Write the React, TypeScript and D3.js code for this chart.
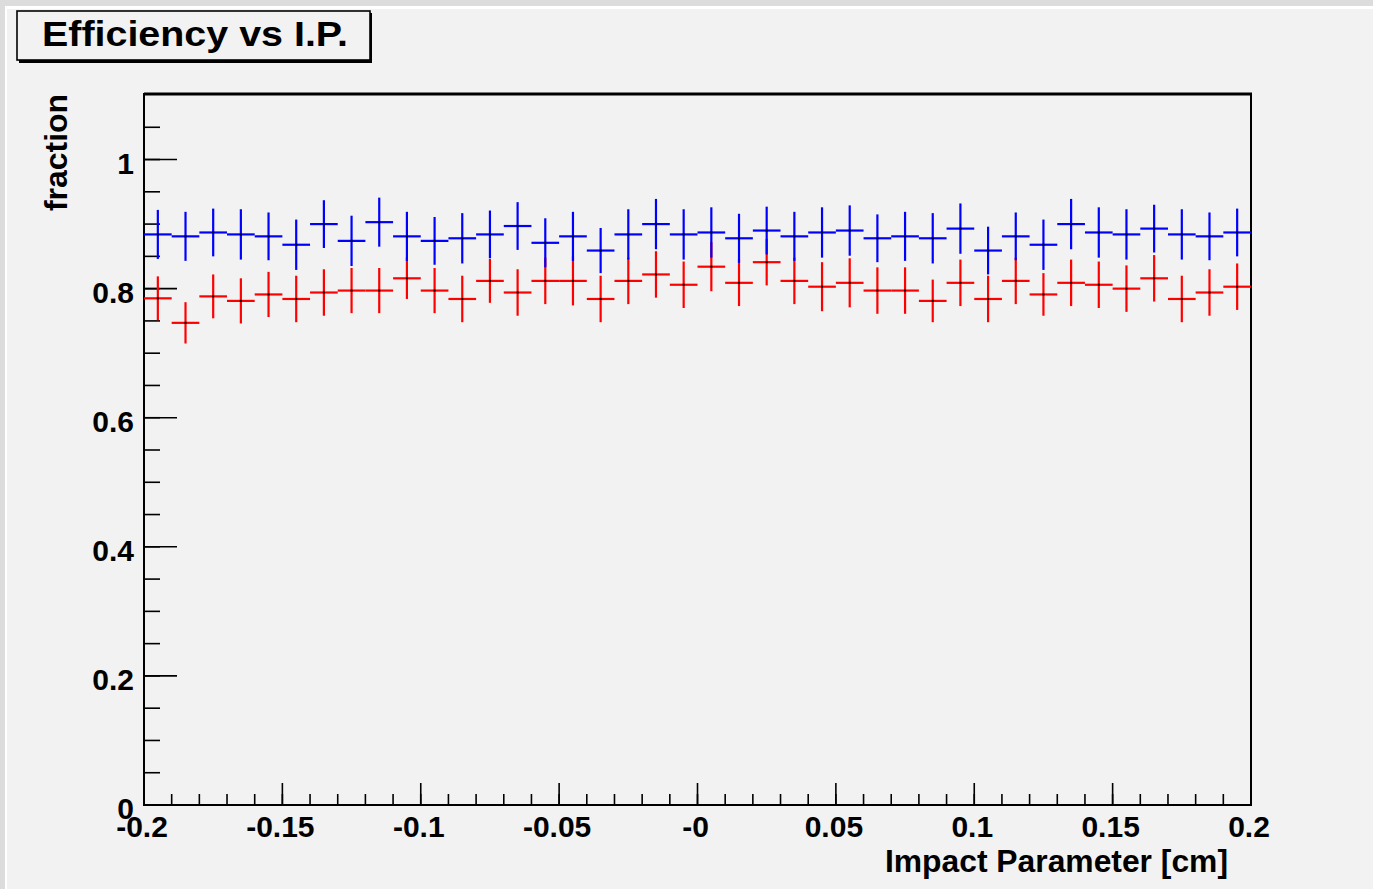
import React, { useEffect, useRef } from "react";
import * as d3 from "d3";

// bin centres of the histogram (bin width 0.01 cm)
const binCenters = [
  -0.195, -0.185, -0.175, -0.165, -0.155, -0.145, -0.135, -0.125, -0.115, -0.105,
  -0.095, -0.085, -0.075, -0.065, -0.055, -0.045, -0.035, -0.025, -0.015, -0.005,
  0.005, 0.015, 0.025, 0.035, 0.045, 0.055, 0.065, 0.075, 0.085, 0.095,
  0.105, 0.115, 0.125, 0.135, 0.145, 0.155, 0.165, 0.175, 0.185, 0.195,
];
const binHalfWidth = 0.005;

const blueValues = [
  0.884, 0.881, 0.887, 0.884, 0.881, 0.868, 0.9, 0.874, 0.903, 0.881,
  0.874, 0.878, 0.884, 0.897, 0.871, 0.881, 0.859, 0.884, 0.9, 0.884,
  0.887, 0.878, 0.89, 0.881, 0.887, 0.89, 0.878, 0.881, 0.878, 0.893,
  0.859, 0.881, 0.868, 0.9, 0.887, 0.884, 0.893, 0.884, 0.881, 0.887,
];
const blueErrors = [
  0.038, 0.038, 0.037, 0.039, 0.037, 0.039, 0.037, 0.039, 0.038, 0.038,
  0.037, 0.039, 0.037, 0.037, 0.038, 0.038, 0.035, 0.039, 0.039, 0.039,
  0.039, 0.038, 0.037, 0.038, 0.039, 0.039, 0.037, 0.038, 0.039, 0.039,
  0.037, 0.037, 0.039, 0.039, 0.039, 0.039, 0.037, 0.039, 0.037, 0.037,
];

const redValues = [
  0.785, 0.747, 0.788, 0.781, 0.791, 0.784, 0.794, 0.797, 0.797, 0.816,
  0.797, 0.784, 0.812, 0.794, 0.812, 0.812, 0.784, 0.812, 0.822, 0.806,
  0.834, 0.809, 0.841, 0.812, 0.803, 0.809, 0.797, 0.797, 0.781, 0.809,
  0.784, 0.812, 0.791, 0.809, 0.806, 0.8, 0.816, 0.784, 0.794, 0.803,
];
const redErrors = [
  0.034, 0.032, 0.034, 0.035, 0.035, 0.036, 0.036, 0.035, 0.035, 0.032,
  0.035, 0.036, 0.034, 0.036, 0.036, 0.038, 0.036, 0.036, 0.036, 0.036,
  0.038, 0.036, 0.036, 0.036, 0.038, 0.038, 0.036, 0.036, 0.033, 0.036,
  0.036, 0.036, 0.033, 0.036, 0.036, 0.036, 0.036, 0.036, 0.036, 0.036,
];

const xMajorTicks = [-0.2, -0.15, -0.1, -0.05, 0, 0.05, 0.1, 0.15, 0.2];
const xTickLabels = ["-0.2", "-0.15", "-0.1", "-0.05", "-0", "0.05", "0.1", "0.15", "0.2"];
const yMajorTicks = [0, 0.2, 0.4, 0.6, 0.8, 1];
const yTickLabels = ["0", "0.2", "0.4", "0.6", "0.8", "1"];

const title = "Efficiency vs I.P.";
const xTitle = "Impact Parameter [cm]";
const yTitle = "fraction";

const W = 1373;
const H = 889;
const FONT = "'Liberation Sans', Arial, Helvetica, sans-serif";

export default function App() {
  const svgRef = useRef<SVGSVGElement>(null);

  useEffect(() => {
    if (!svgRef.current) return;
    const svg = d3.select(svgRef.current);
    svg.selectAll("*").remove();

    // canvas background with a window-like border
    svg.append("rect").attr("width", W).attr("height", H).attr("fill", "#dcdcdc");
    svg.append("rect").attr("x", 5).attr("y", 6).attr("width", W).attr("height", H).attr("fill", "#ffffff");
    svg.append("rect").attr("x", 7).attr("y", 9).attr("width", W).attr("height", H).attr("fill", "#f2f2f2");

    const left = 144;
    const right = 1251;
    const bottom = 805;
    const top = 94;

    const x = d3.scaleLinear().domain([-0.2, 0.2]).range([left, right]);
    const y = d3.scaleLinear().domain([0, 1.1]).range([bottom, top + 1]);

    // frame
    svg.append("rect")
      .attr("x", left).attr("y", top)
      .attr("width", right - left).attr("height", bottom - top)
      .attr("fill", "none").attr("stroke", "#000").attr("stroke-width", 2);
    svg.append("line")
      .attr("x1", left).attr("x2", right + 1).attr("y1", top).attr("y2", top)
      .attr("stroke", "#000").attr("stroke-width", 3);

    // x ticks
    const xMinor = d3.range(-0.2, 0.2001, 0.01);
    svg.append("g").selectAll("line").data(xMinor).enter().append("line")
      .attr("x1", (d) => x(d)).attr("x2", (d) => x(d))
      .attr("y1", bottom).attr("y2", bottom - 11)
      .attr("stroke", "#000").attr("stroke-width", 1.6);
    svg.append("g").selectAll("line").data(xMajorTicks).enter().append("line")
      .attr("x1", (d) => x(d)).attr("x2", (d) => x(d))
      .attr("y1", bottom).attr("y2", bottom - 22)
      .attr("stroke", "#000").attr("stroke-width", 1.6);
    svg.append("g").selectAll("text").data(xMajorTicks).enter().append("text")
      .attr("x", (d) => x(d) - 2).attr("y", 837)
      .attr("text-anchor", "middle")
      .style("font-family", FONT).style("font-weight", "bold").style("font-size", "30px")
      .text((d, i) => xTickLabels[i]);

    // y ticks
    const yMinor = d3.range(0, 1.1, 0.05);
    svg.append("g").selectAll("line").data(yMinor).enter().append("line")
      .attr("x1", left).attr("x2", left + 16)
      .attr("y1", (d) => y(d)).attr("y2", (d) => y(d))
      .attr("stroke", "#000").attr("stroke-width", 1.6);
    svg.append("g").selectAll("line").data(yMajorTicks).enter().append("line")
      .attr("x1", left).attr("x2", left + 33)
      .attr("y1", (d) => y(d)).attr("y2", (d) => y(d))
      .attr("stroke", "#000").attr("stroke-width", 1.6);
    svg.append("g").selectAll("text").data(yMajorTicks).enter().append("text")
      .attr("x", 134).attr("y", (d) => y(d) + 14)
      .attr("text-anchor", "end")
      .style("font-family", FONT).style("font-weight", "bold").style("font-size", "30px")
      .text((d, i) => yTickLabels[i]);

    // axis titles
    svg.append("text")
      .attr("x", 1228).attr("y", 872)
      .attr("text-anchor", "end")
      .style("font-family", FONT).style("font-weight", "bold").style("font-size", "31px")
      .attr("textLength", 343).attr("lengthAdjust", "spacingAndGlyphs")
      .text(xTitle);
    svg.append("text")
      .attr("transform", "translate(67,94) rotate(-90)")
      .attr("text-anchor", "end")
      .style("font-family", FONT).style("font-weight", "bold").style("font-size", "31px")
      .attr("textLength", 117).attr("lengthAdjust", "spacingAndGlyphs")
      .text(yTitle);

    // data series: red underneath, blue on top
    const series = [
      { values: redValues, errors: redErrors, color: "#ff0000" },
      { values: blueValues, errors: blueErrors, color: "#0000ff" },
    ];
    series.forEach((s) => {
      const g = svg.append("g");
      const pts = binCenters.map((c, i) => ({ c, v: s.values[i], e: s.errors[i] }));
      g.selectAll(".h").data(pts).enter().append("line")
        .attr("x1", (d) => x(d.c - binHalfWidth)).attr("x2", (d) => x(d.c + binHalfWidth))
        .attr("y1", (d) => y(d.v)).attr("y2", (d) => y(d.v))
        .attr("stroke", s.color).attr("stroke-width", 2.2);
      g.selectAll(".v").data(pts).enter().append("line")
        .attr("x1", (d) => x(d.c)).attr("x2", (d) => x(d.c))
        .attr("y1", (d) => y(d.v - d.e)).attr("y2", (d) => y(d.v + d.e))
        .attr("stroke", s.color).attr("stroke-width", 2.2);
      g.selectAll(".m").data(pts).enter().append("rect")
        .attr("x", (d) => x(d.c) - 1).attr("y", (d) => y(d.v) - 1)
        .attr("width", 2).attr("height", 2).attr("fill", "#000");
    });

    // title box with shadow
    svg.append("rect").attr("x", 19).attr("y", 13).attr("width", 353).attr("height", 50).attr("fill", "#000");
    svg.append("rect").attr("x", 17).attr("y", 11).attr("width", 353).attr("height", 49)
      .attr("fill", "#f2f2f2").attr("stroke", "#000").attr("stroke-width", 1.6);
    svg.append("text")
      .attr("x", 42).attr("y", 46)
      .style("font-family", FONT).style("font-weight", "bold").style("font-size", "35px")
      .attr("textLength", 306).attr("lengthAdjust", "spacingAndGlyphs")
      .text(title);
  }, []);

  return (
    <svg
      ref={svgRef}
      width={W}
      height={H}
      style={{ position: "absolute", left: 0, top: 0, display: "block" }}
    />
  );
}
